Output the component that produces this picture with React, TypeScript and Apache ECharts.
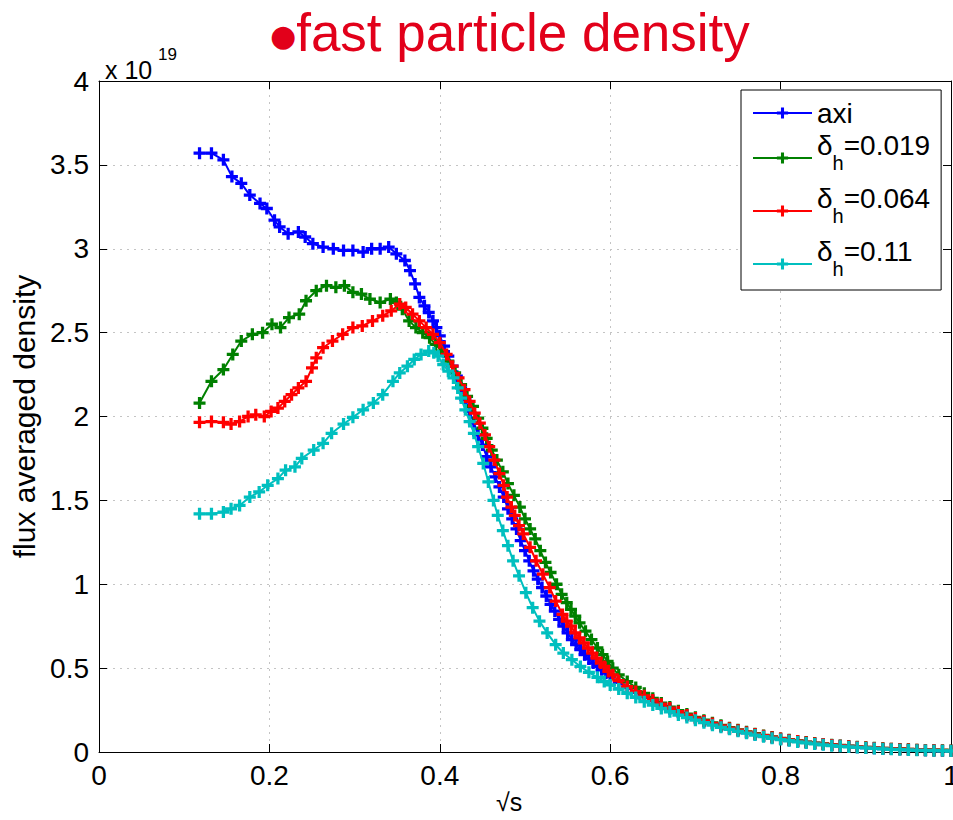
import React, { useEffect, useRef } from 'react';
import * as echarts from 'echarts';

const seriesNames = ['axi', 'δh=0.019', 'δh=0.064', 'δh=0.11'];
const seriesColors = ['#0000ff', '#008000', '#ff0000', '#00bfbf'];
const xTickValues = [0, 0.2, 0.4, 0.6, 0.8, 1];
const yTickValues = [0, 0.5, 1, 1.5, 2, 2.5, 3, 3.5, 4];
const exponentText = ['x 10', '19'];
const xAxisTitle = '√s';
const yAxisTitle = 'flux averaged density';

const tailX = [0.61, 0.62, 0.63, 0.64, 0.65, 0.66, 0.67, 0.68, 0.69, 0.7, 0.71, 0.72, 0.73, 0.74, 0.75, 0.76, 0.77, 0.78, 0.79, 0.8, 0.81, 0.82, 0.83, 0.84, 0.85, 0.86, 0.87, 0.88, 0.89, 0.9, 0.91, 0.92, 0.93, 0.94, 0.95, 0.96, 0.97, 0.98, 0.99, 1.0];

const axiX = [0.118, 0.132, 0.146, 0.156, 0.167, 0.177, 0.189, 0.197, 0.206, 0.212, 0.222, 0.234, 0.242, 0.251, 0.263, 0.275, 0.287, 0.298, 0.31, 0.32, 0.33, 0.34, 0.349, 0.359, 0.365, 0.371, 0.376, 0.382, 0.387, 0.392, 0.396, 0.4, 0.405, 0.41, 0.415, 0.42, 0.425, 0.43, 0.435, 0.44, 0.445, 0.45, 0.455, 0.46, 0.465, 0.47, 0.475, 0.48, 0.485, 0.49, 0.495, 0.5, 0.505, 0.51, 0.515, 0.52, 0.525, 0.53, 0.535, 0.54, 0.545, 0.55, 0.555, 0.56, 0.565, 0.57, 0.575, 0.58, 0.585, 0.59, 0.595, 0.6, ...tailX];
const axiY = [3.57, 3.57, 3.53, 3.43, 3.39, 3.32, 3.27, 3.24, 3.17, 3.13, 3.09, 3.1, 3.07, 3.03, 3.01, 3.0, 2.99, 2.99, 2.98, 3.0, 3.0, 3.01, 2.97, 2.93, 2.87, 2.79, 2.71, 2.66, 2.62, 2.57, 2.53, 2.48, 2.42, 2.36, 2.3, 2.24, 2.17, 2.1, 2.03, 1.96, 1.89, 1.83, 1.76, 1.7, 1.64, 1.58, 1.52, 1.45, 1.39, 1.33, 1.26, 1.2, 1.14, 1.08, 1.03, 0.98, 0.93, 0.88, 0.84, 0.79, 0.75, 0.71, 0.67, 0.64, 0.61, 0.58, 0.555, 0.53, 0.51, 0.49, 0.47, 0.45,
  0.415, 0.385, 0.355, 0.33, 0.305, 0.28, 0.258, 0.237, 0.218, 0.2, 0.183, 0.168, 0.153, 0.14, 0.128, 0.116, 0.105, 0.095, 0.086, 0.078, 0.07, 0.063, 0.057, 0.051, 0.046, 0.041, 0.037, 0.033, 0.029, 0.026, 0.023, 0.02, 0.018, 0.016, 0.014, 0.012, 0.01, 0.009, 0.008, 0.007];

const d019X = [0.118, 0.132, 0.146, 0.157, 0.167, 0.18, 0.192, 0.203, 0.213, 0.223, 0.235, 0.243, 0.255, 0.267, 0.278, 0.288, 0.298, 0.308, 0.318, 0.33, 0.342, 0.349, 0.356, 0.364, 0.372, 0.38, 0.388, 0.395, 0.402, 0.41, 0.418, 0.425, 0.432, 0.439, 0.445, 0.45, 0.455, 0.461, 0.467, 0.474, 0.48, 0.487, 0.494, 0.5, 0.506, 0.512, 0.518, 0.524, 0.53, 0.537, 0.543, 0.549, 0.554, 0.559, 0.564, 0.571, 0.578, 0.585, 0.591, 0.597, 0.603, 0.61, ...tailX.slice(1)];
const d019Y = [2.08, 2.21, 2.28, 2.37, 2.45, 2.49, 2.5, 2.55, 2.53, 2.59, 2.61, 2.69, 2.75, 2.78, 2.77, 2.78, 2.74, 2.73, 2.7, 2.68, 2.7, 2.68, 2.64, 2.57, 2.53, 2.5, 2.47, 2.43, 2.39, 2.33, 2.26, 2.19, 2.12, 2.06, 1.99, 1.93, 1.87, 1.8, 1.74, 1.67, 1.6, 1.53, 1.46, 1.39, 1.33, 1.27, 1.2, 1.13, 1.07, 1.0, 0.94, 0.89, 0.85, 0.81, 0.77, 0.72, 0.67, 0.62, 0.58, 0.54, 0.5, 0.46,
  0.42, 0.385, 0.35, 0.32, 0.292, 0.268, 0.246, 0.226, 0.207, 0.19, 0.174, 0.159, 0.145, 0.132, 0.12, 0.109, 0.099, 0.09, 0.081, 0.073, 0.066, 0.059, 0.053, 0.048, 0.043, 0.039, 0.035, 0.031, 0.028, 0.025, 0.022, 0.02, 0.018, 0.016, 0.014, 0.012, 0.011, 0.01, 0.009];

const d064X = [0.118, 0.132, 0.146, 0.155, 0.165, 0.175, 0.184, 0.194, 0.202, 0.21, 0.218, 0.226, 0.234, 0.243, 0.25, 0.255, 0.263, 0.274, 0.286, 0.298, 0.309, 0.321, 0.333, 0.343, 0.353, 0.36, 0.368, 0.376, 0.384, 0.392, 0.4, 0.408, 0.415, 0.422, 0.429, 0.435, 0.441, 0.447, 0.453, 0.458, 0.464, 0.47, 0.475, 0.479, 0.484, 0.488, 0.493, 0.498, 0.506, 0.513, 0.521, 0.529, 0.536, 0.544, 0.549, 0.554, 0.559, 0.564, 0.569, 0.574, 0.579, 0.584, 0.589, 0.593, 0.598, 0.603, ...tailX];
const d064Y = [1.965, 1.97, 1.965, 1.955, 1.97, 2.0, 2.01, 2.0, 2.03, 2.05, 2.09, 2.13, 2.17, 2.21, 2.29, 2.35, 2.41, 2.45, 2.49, 2.53, 2.54, 2.57, 2.6, 2.63, 2.67, 2.65, 2.61, 2.57, 2.53, 2.49, 2.44, 2.37, 2.3, 2.23, 2.16, 2.09, 2.02, 1.96, 1.89, 1.82, 1.74, 1.66, 1.59, 1.52, 1.46, 1.41, 1.35, 1.3, 1.22, 1.14, 1.06, 0.98, 0.9, 0.82, 0.78, 0.75, 0.71, 0.68, 0.65, 0.62, 0.59, 0.56, 0.53, 0.51, 0.48, 0.46,
  0.425, 0.39, 0.36, 0.335, 0.31, 0.285, 0.262, 0.24, 0.22, 0.202, 0.185, 0.17, 0.155, 0.142, 0.13, 0.118, 0.107, 0.097, 0.088, 0.08, 0.072, 0.065, 0.058, 0.052, 0.047, 0.042, 0.038, 0.034, 0.03, 0.027, 0.024, 0.021, 0.019, 0.017, 0.015, 0.013, 0.011, 0.01, 0.009, 0.008];

const d11X = [0.118, 0.132, 0.146, 0.155, 0.165, 0.177, 0.188, 0.198, 0.21, 0.219, 0.23, 0.238, 0.252, 0.263, 0.273, 0.287, 0.298, 0.31, 0.322, 0.333, 0.345, 0.353, 0.362, 0.37, 0.378, 0.387, 0.393, 0.398, 0.404, 0.41, 0.416, 0.421, 0.425, 0.43, 0.435, 0.44, 0.445, 0.451, 0.457, 0.463, 0.468, 0.474, 0.48, 0.486, 0.493, 0.501, 0.509, 0.517, 0.526, 0.536, 0.545, 0.555, 0.565, 0.575, 0.585, 0.593, 0.6, ...tailX];
const d11Y = [1.42, 1.42, 1.43, 1.45, 1.47, 1.52, 1.55, 1.59, 1.63, 1.68, 1.7, 1.75, 1.8, 1.84, 1.9, 1.955, 1.995, 2.04, 2.08, 2.13, 2.21, 2.26, 2.3, 2.34, 2.37, 2.39, 2.38, 2.36, 2.31, 2.27, 2.23, 2.17, 2.11, 2.04, 1.97, 1.9, 1.82, 1.72, 1.61, 1.5, 1.41, 1.32, 1.23, 1.14, 1.05, 0.95, 0.86, 0.78, 0.71, 0.64, 0.59, 0.55, 0.51, 0.475, 0.445, 0.42, 0.4,
  0.375, 0.35, 0.325, 0.3, 0.28, 0.26, 0.24, 0.22, 0.205, 0.19, 0.175, 0.16, 0.147, 0.135, 0.123, 0.112, 0.101, 0.091, 0.082, 0.074, 0.067, 0.06, 0.054, 0.048, 0.043, 0.038, 0.034, 0.03, 0.027, 0.024, 0.021, 0.018, 0.016, 0.014, 0.012, 0.01, 0.009, 0.008, 0.007, 0.006];

const seriesX = [axiX, d019X, d064X, d11X];
const seriesY = [axiY, d019Y, d064Y, d11Y];

const PLUS = 'path://M4,0H7V4H11V7H7V11H4V7H0V4H4Z';
const FONT = 'Liberation Sans, Arial, Helvetica, sans-serif';

function zip(xs: number[], ys: number[]) {
  const n = Math.min(xs.length, ys.length);
  const out: number[][] = [];
  for (let i = 0; i < n; i++) out.push([xs[i], ys[i]]);
  return out;
}

export default function App() {
  const ref = useRef<HTMLDivElement>(null);
  useEffect(() => {
    if (!ref.current) return;
    const chart = echarts.init(ref.current, undefined, { renderer: 'svg' });
    const frameLine = { show: true, onZero: false, lineStyle: { color: '#000', width: 1 } };
    const tick = { show: true, inside: true, length: 8, lineStyle: { color: '#000', width: 1 } };
    const split = { show: true, lineStyle: { color: '#c4c4c4', width: 1, type: [2, 5] as any } };
    const labelStyle = { fontSize: 28, color: '#000', fontFamily: FONT };
    const option: any = {
      animation: false,
      backgroundColor: '#fff',
      title: {
        text: '{b|●}{t|fast particle density}',
        left: 270,
        top: 2,
        padding: 0,
        textStyle: {
          fontWeight: 'normal',
          rich: {
            b: { fontSize: 30, fontFamily: 'DejaVu Sans', fontWeight: 'normal', color: '#e2001a', lineHeight: 60, padding: [6, 0, 0, 0] },
            t: { fontSize: 53, fontFamily: FONT, fontWeight: 'normal', color: '#e2001a', lineHeight: 60 },
          },
        },
      },
      grid: { left: 99, right: 2, top: 81, bottom: 68, containLabel: false, outerBoundsMode: 'none' },
      xAxis: [
        {
          type: 'value', min: 0, max: 1, interval: 0.2, position: 'bottom',
          axisLine: frameLine, axisTick: tick, splitLine: split,
          axisLabel: { ...labelStyle, margin: 9, formatter: (v: number) => String(Math.round(v * 10) / 10) },
        },
        {
          type: 'value', min: 0, max: 1, interval: 0.2, position: 'top',
          axisLine: frameLine, axisTick: tick, splitLine: { show: false }, axisLabel: { show: false },
        },
      ],
      yAxis: [
        {
          type: 'value', min: 0, max: 4, interval: 0.5, position: 'left',
          axisLine: frameLine, axisTick: tick, splitLine: split,
          axisLabel: { ...labelStyle, margin: 10, formatter: (v: number) => String(v) },
          name: yAxisTitle, nameLocation: 'middle', nameGap: 55,
          nameTextStyle: { fontSize: 30, color: '#000', fontFamily: FONT },
        },
        {
          type: 'value', min: 0, max: 4, interval: 0.5, position: 'right',
          axisLine: frameLine, axisTick: tick, splitLine: { show: false }, axisLabel: { show: false },
        },
      ],
      legend: {
        orient: 'vertical',
        left: 741,
        top: 90,
        padding: [5, 11, 0, 11],
        itemGap: 0,
        itemWidth: 59,
        itemHeight: 14,
        backgroundColor: '#fff',
        borderColor: '#000',
        borderWidth: 1,
        borderRadius: 0,
        data: seriesNames,
        formatter: (name: string) =>
          name.startsWith('δh') ? `{d|δ}{s|h}{n|${name.slice(2)}}` : `{a|${name}}`,
        textStyle: {
          color: '#000',
          fontFamily: FONT,
          rich: {
            a: { fontSize: 28, fontFamily: FONT, color: '#000', height: 30, lineHeight: 38, padding: [3, 0, 3, 0], verticalAlign: 'middle' },
            d: { fontSize: 28, fontFamily: FONT, color: '#000', height: 26, lineHeight: 52, padding: [0, 0, 26, 0], verticalAlign: 'middle' },
            n: { fontSize: 28, fontFamily: FONT, color: '#000', height: 26, lineHeight: 52, padding: [0, 0, 26, 0], verticalAlign: 'middle' },
            s: { fontSize: 20, fontFamily: FONT, color: '#000', height: 20, lineHeight: 52, padding: [21, 0, 11, 0], verticalAlign: 'middle' },
          },
        },
      },
      graphic: [
        { type: 'text', left: 105, top: 57, style: { text: exponentText[0], fontSize: 25, fontFamily: FONT, fill: '#000' } },
        { type: 'text', left: 158, top: 46, style: { text: exponentText[1], fontSize: 17, fontFamily: FONT, fill: '#000' } },
        { type: 'text', left: 496, top: 789, style: { text: xAxisTitle, fontSize: 25, fontFamily: FONT, fill: '#000' } },
      ],
      series: seriesNames.map((name, i) => ({
        type: 'line',
        name,
        data: zip(seriesX[i], seriesY[i]),
        symbol: PLUS,
        symbolSize: 12,
        showSymbol: true,
        lineStyle: { color: seriesColors[i], width: 2 },
        itemStyle: { color: seriesColors[i], borderWidth: 0 },
        z: 2 + i,
        xAxisIndex: 0,
        yAxisIndex: 0,
      })),
    };
    chart.setOption(option);
    return () => chart.dispose();
  }, []);
  return <div ref={ref} style={{ position: 'fixed', left: 0, top: 0, width: 953, height: 820 }} />;
}
